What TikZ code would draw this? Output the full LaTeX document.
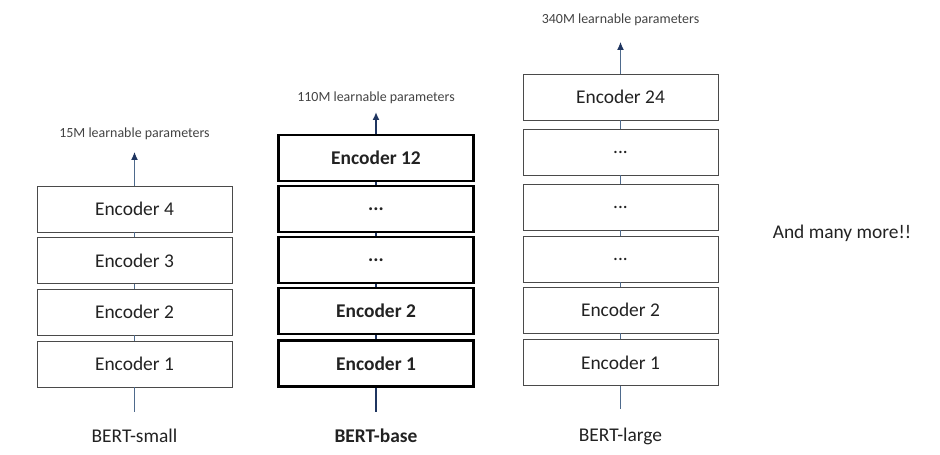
\documentclass[tikz,border=0pt]{standalone}
\usepackage{fontspec}
\setmainfont{Carlito}
\usetikzlibrary{arrows.meta}
\definecolor{Ink}{HTML}{222222}
\definecolor{Frame}{HTML}{4A4A4A}
\definecolor{Steel}{HTML}{4E6A8C}
\definecolor{Navy}{HTML}{1F3560}

\begin{document}
\begin{tikzpicture}[
  x=1bp, y=-1bp,
  font=\fontsize{19.5}{22}\selectfont, text=Ink,
  encbox/.style={draw=Frame, line width=0.9bp, fill=white, minimum width=195bp, minimum height=46bp, inner sep=0pt},
  basebox/.style={encbox, draw=black, line width=2.4bp, font=\fontsize{19.5}{22}\selectfont\bfseries},
  link/.style={draw=Steel, line width=1bp},
  baselink/.style={draw=Navy, line width=2bp},
  uparrow/.style={link, -{Latex[length=8bp, width=7bp, color=Navy]}},
  baseuparrow/.style={baselink, -{Latex[length=8bp, width=7bp, color=Navy]}},
  paramtext/.style={font=\fontsize{14}{16}\selectfont, text=Ink!85},
  modeltext/.style={font=\fontsize{19.5}{22}\selectfont}
]
\useasboundingbox (0,0) rectangle (940,455);

% BERT-small
\node[encbox] (sm1) at (134.5,364) {Encoder 1};
\node[encbox] (sm2) at (134.5,312) {Encoder 2};
\node[encbox] (sm3) at (134.5,260.5) {Encoder 3};
\node[encbox] (sm4) at (134.5,209) {Encoder 4};
\coordinate (sm-in) at (134.5,412);
\coordinate (sm-out) at (134.5,152);
\node[paramtext] (sm-par) at (134.5,134) {15M learnable parameters};
\node[modeltext] (sm-lbl) at (134.5,436) {BERT-small};

% BERT-base
\node[basebox] (bs1) at (376,363.5) {Encoder 1};
\node[basebox] (bs2) at (376,311) {Encoder 2};
\node[basebox] (bs3) at (376,260) {...};
\node[basebox] (bs4) at (376,209) {...};
\node[basebox] (bs12) at (376,158) {Encoder 12};
\coordinate (bs-in) at (376,412);
\coordinate (bs-out) at (376,112);
\node[paramtext] (bs-par) at (376,98) {110M learnable parameters};
\node[modeltext, font=\fontsize{19.5}{22}\selectfont\bfseries] (bs-lbl) at (376,436) {BERT-base};

% BERT-large
\node[encbox] (lg1) at (620.5,362.5) {Encoder 1};
\node[encbox] (lg2) at (620.5,310) {Encoder 2};
\node[encbox] (lg3) at (620.5,259) {...};
\node[encbox] (lg4) at (620.5,207) {...};
\node[encbox] (lg5) at (620.5,152) {...};
\node[encbox] (lg24) at (620.5,97) {Encoder 24};
\coordinate (lg-in) at (620.5,409);
\coordinate (lg-out) at (620.5,42);
\node[paramtext] (lg-par) at (620.5,20) {340M learnable parameters};
\node[modeltext] (lg-lbl) at (620.5,436) {BERT-large};

\node[modeltext] (more) at (842,233) {And many more!!};

\draw[link] (sm-in) -- (sm1);
\draw[link] (sm1) -- (sm2);
\draw[link] (sm2) -- (sm3);
\draw[link] (sm3) -- (sm4);
\draw[uparrow] (sm4) -- (sm-out);

\draw[baselink] (bs-in) -- (bs1);
\draw[baselink] (bs1) -- (bs2);
\draw[baselink] (bs2) -- (bs3);
\draw[baselink] (bs3) -- (bs4);
\draw[baselink] (bs4) -- (bs12);
\draw[baseuparrow] (bs12) -- (bs-out);

\draw[link] (lg-in) -- (lg1);
\draw[link] (lg1) -- (lg2);
\draw[link] (lg2) -- (lg3);
\draw[link] (lg3) -- (lg4);
\draw[link] (lg4) -- (lg5);
\draw[link] (lg5) -- (lg24);
\draw[uparrow] (lg24) -- (lg-out);
\end{tikzpicture}
\end{document}
